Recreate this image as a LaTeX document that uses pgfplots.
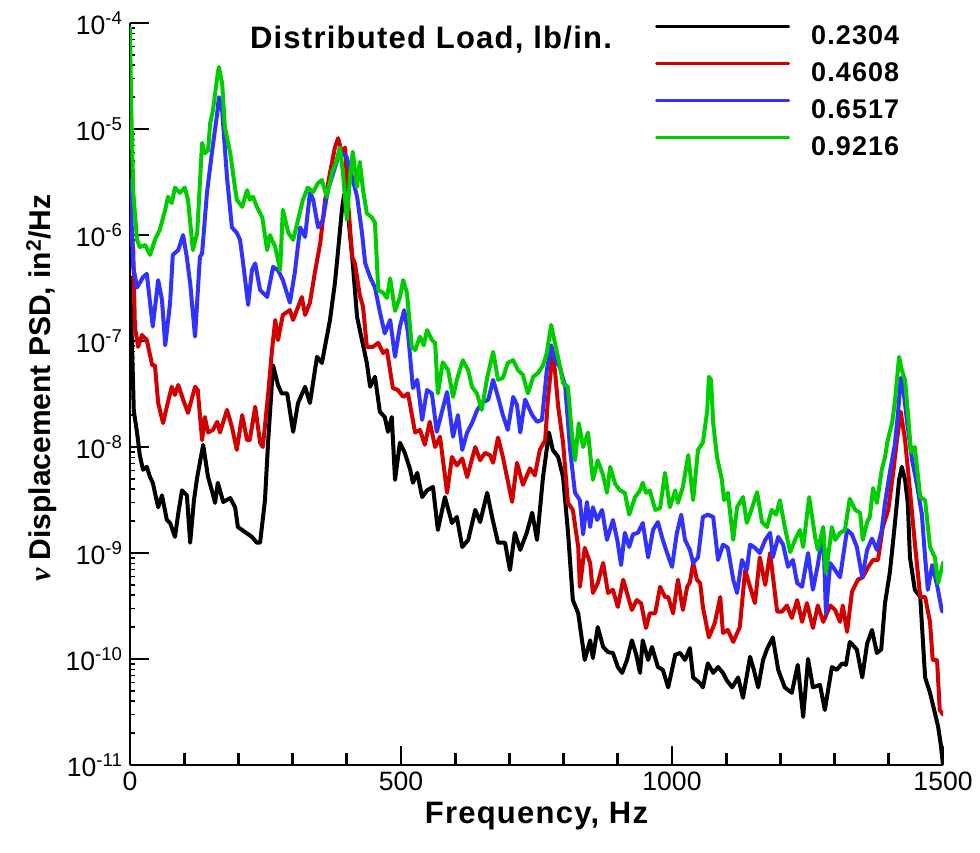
\documentclass[border=0pt]{standalone}
\usepackage{pgfplots}
\pgfplotsset{compat=1.18}
\usepackage{fontspec}
\setmainfont{Liberation Sans}
\newfontfamily\timesfont{Liberation Serif}
\newfontfamily\widefont[LetterSpace=4]{Liberation Sans}
\definecolor{cred}{RGB}{210,0,0}
\definecolor{cblue}{RGB}{50,50,255}
\definecolor{cgreen}{RGB}{0,205,0}
\begin{document}
\begin{tikzpicture}
\useasboundingbox (-97.5pt,-65.25pt) rectangle (637.5pt,573.75pt);
\begin{axis}[
  at={(0pt,0pt)}, anchor=south west,
  scale only axis, width=609.75pt, height=556.5pt,
  xmin=0, xmax=1500, ymin=1e-11, ymax=1e-4, ymode=log,
  axis lines=left, axis line style={-, line width=2.2pt, black},
  tick align=inside,
  xtick={0,500,1000,1500}, xticklabels={0,500,1000,1500},
  extra x ticks={100,200,300,400,600,700,800,900,1100,1200,1300,1400},
  extra x tick labels={},
  extra x tick style={major tick length=9pt, tick style={line width=1.2pt, black}},
  ytick={1e-11,1e-10,1e-9,1e-8,1e-7,1e-6,1e-5,1e-4},
  yticklabels={10\textsuperscript{-11},10\textsuperscript{-10},10\textsuperscript{-9},10\textsuperscript{-8},10\textsuperscript{-7},10\textsuperscript{-6},10\textsuperscript{-5},10\textsuperscript{-4}},
  minor ytick={2e-11,3e-11,4e-11,5e-11,6e-11,7e-11,8e-11,9e-11,
    2e-10,3e-10,4e-10,5e-10,6e-10,7e-10,8e-10,9e-10,
    2e-9,3e-9,4e-9,5e-9,6e-9,7e-9,8e-9,9e-9,
    2e-8,3e-8,4e-8,5e-8,6e-8,7e-8,8e-8,9e-8,
    2e-7,3e-7,4e-7,5e-7,6e-7,7e-7,8e-7,9e-7,
    2e-6,3e-6,4e-6,5e-6,6e-6,7e-6,8e-6,9e-6,
    2e-5,3e-5,4e-5,5e-5,6e-5,7e-5,8e-5,9e-5},
  major tick length=14.6pt, minor tick length=3.9pt,
  major tick style={line width=2.2pt, black},
  minor tick style={line width=1.1pt, black},
  tick label style={font=\fontsize{19.9pt}{24pt}\selectfont},
  xticklabel style={yshift=-2pt},
  yticklabel style={xshift=-2pt},
  xlabel={Frequency, Hz},
  xlabel style={at={(axis description cs:0.5,-0.0782)}, anchor=base, font=\fontsize{23.25pt}{28pt}\selectfont\widefont\bfseries},
  ylabel={{\timesfont\bfseries\itshape v} Displacement PSD, in\textsuperscript{2}/Hz},
  ylabel style={at={(axis description cs:-0.0972,0.508)}, anchor=base, font=\fontsize{22.5pt}{27pt}\selectfont\bfseries},
  legend cell align=left,
  legend style={at={(axis description cs:0.6458,0.9973)}, anchor=north west, draw=none, fill=none,
    inner sep=0pt, outer sep=0pt, row sep=11.5pt, column sep=15.75pt,
    nodes={inner sep=0pt},
    font=\fontsize{20.25pt}{24pt}\selectfont\widefont\bfseries},
  legend image code/.code={\draw[#1, line width=2.4pt] (0pt,7.25pt) -- (99pt,7.25pt);},
  every axis plot/.append style={line width=3pt, line join=round, line cap=round},
]
% 0.2304
\addplot[black] coordinates {
(0,3.8e-7) (4,8.2e-8) (7,2.2e-8) (13,1.37e-8) (18,8.4e-9) (24,6.1e-9) (31,6.5e-9) (37,5.2e-9) (42,4.6e-9) (52,2.7e-9) (59,3.5e-9) (68,2.05e-9) (74,1.92e-9) (83,1.42e-9) (90,2.55e-9) (96,3.9e-9) (105,3.5e-9) (111,1.25e-9) (118,3.15e-9) (124,5.2e-9) (135,1.05e-8) (144,5.2e-9) (151,3.9e-9) (157,2.97e-9) (162,4.6e-9) (172,3.03e-9) (185,3.3e-9) (194,2.7e-9) (199,1.76e-9) (212,1.58e-9) (225,1.42e-9) (234,1.25e-9) (240,1.25e-9) (249,3.15e-9) (255,1.16e-8) (264,5.9e-8) (273,3.85e-8) (280,3.2e-8) (290,3.2e-8) (301,1.39e-8) (310,2.6e-8) (323,3.7e-8) (332,2.6e-8) (345,7.1e-8) (354,6.2e-8) (369,1.58e-7) (378,3.5e-7) (384,7.2e-7) (391,1.73e-6) (395,2.4e-6) (400,2.15e-6) (406,1e-6) (411,5.4e-7) (419,1.68e-7) (428,1.02e-7) (437,6.2e-8) (443,3.7e-8) (452,4.6e-8) (461,2.15e-8) (470,1.92e-8) (476,1.39e-8) (483,1.92e-8) (489,4.9e-9) (498,1.1e-8) (507,8.8e-9) (517,6.1e-9) (522,4.6e-9) (530,5.7e-9) (539,3.37e-9) (548,3.9e-9) (559,4.2e-9) (568,1.65e-9) (581,3.37e-9) (594,1.92e-9) (603,2.19e-9) (613,1.14e-9) (624,1.33e-9) (637,2.55e-9) (646,1.96e-9) (659,3.7e-9) (668,2.19e-9) (679,1.25e-9) (692,1.25e-9) (701,6.9e-10) (710,1.55e-9) (720,1.07e-9) (732,1.55e-9) (742,2.4e-9) (751,1.33e-9) (762,5.2e-9) (773,1.37e-8) (780,9.4e-9) (790,8.05e-9) (799,5.2e-9) (808,1.6e-9) (817,3.6e-10) (827,2.7e-10) (839,9.8e-11) (849,1.5e-10) (854,1.02e-10) (863,2.0e-10) (873,1.3e-10) (882,1.16e-10) (891,1.14e-10) (900,8.4e-11) (908,7.4e-11) (917,9.8e-11) (926,1.5e-10) (934,1.1e-10) (941,7.4e-11) (946,1.5e-10) (956,9.8e-11) (963,1.3e-10) (974,8.4e-11) (983,7.9e-11) (993,5.4e-11) (1006,1.1e-10) (1015,1.14e-10) (1024,9.8e-11) (1033,1.27e-10) (1039,6.7e-11) (1052,5.9e-11) (1057,5.4e-11) (1066,9.1e-11) (1076,7.4e-11) (1085,8.4e-11) (1094,7.4e-11) (1101,6.3e-11) (1111,5.4e-11) (1122,6.7e-11) (1131,4.3e-11) (1144,1.05e-10) (1151,7.9e-11) (1159,5.4e-11) (1168,9.8e-11) (1175,1.23e-10) (1186,1.6e-10) (1196,7.9e-11) (1208,5.4e-11) (1221,4.8e-11) (1232,8.8e-11) (1242,2.85e-11) (1251,1.0e-10) (1260,5.4e-11) (1273,5.7e-11) (1282,3.3e-11) (1295,8.4e-11) (1304,7.9e-11) (1314,9.1e-11) (1321,8.8e-11) (1328,1.45e-10) (1341,1.23e-10) (1351,6.7e-11) (1360,1.4e-10) (1369,1.88e-10) (1378,1.14e-10) (1386,1.23e-10) (1393,3.37e-10) (1402,6.6e-10) (1411,1.84e-9) (1419,4.9e-9) (1424,6.5e-9) (1430,4.9e-9) (1435,2.97e-9) (1439,9.1e-10) (1448,4.5e-10) (1458,3.85e-10) (1467,6.7e-11) (1476,4.8e-11) (1485,3.1e-11) (1491,2.3e-11) (1496,1.55e-11) (1500,1.0e-11)
};
% 0.4608
\addplot[cred] coordinates {
(0,1.5e-6) (6,7.2e-7) (9,1.37e-7) (15,8.8e-8) (22,1.14e-7) (31,1.02e-7) (41,5.9e-8) (46,5.9e-8) (52,2.6e-8) (61,1.68e-8) (68,2.4e-8) (77,3.7e-8) (83,3.1e-8) (89,3.85e-8) (98,2.8e-8) (107,2.1e-8) (120,3.7e-8) (125,3.45e-8) (133,1.16e-8) (138,1.92e-8) (144,1.37e-8) (153,1.45e-8) (161,1.73e-8) (166,1.37e-8) (179,2.24e-8) (188,1.55e-8) (197,9.4e-9) (207,2.0e-8) (216,1.16e-8) (221,1.16e-8) (231,2.4e-8) (240,1.1e-8) (245,1.0e-8) (255,3.2e-8) (262,8.2e-8) (268,1.58e-7) (273,1.02e-7) (282,1.76e-7) (295,1.96e-7) (301,1.58e-7) (317,2.6e-7) (323,1.76e-7) (332,2.3e-7) (341,4.4e-7) (351,8.4e-7) (360,2.15e-6) (369,3.85e-6) (378,6.7e-6) (384,8.2e-6) (391,5.9e-6) (397,6.7e-6) (402,2.15e-6) (410,6.2e-7) (415,5.4e-7) (424,2.7e-7) (430,2.1e-7) (437,8.8e-8) (448,8.8e-8) (458,9.6e-8) (467,7.7e-8) (474,8.2e-8) (485,3.6e-8) (494,3.45e-8) (504,2.97e-8) (513,3.2e-8) (526,1.37e-8) (535,1.45e-8) (544,1.05e-8) (553,1.73e-8) (563,1.0e-8) (572,1.25e-8) (585,3.7e-9) (594,8.05e-9) (603,6.7e-9) (613,7.8e-9) (622,5.2e-9) (637,1.0e-8) (646,7.5e-9) (655,8.8e-9) (664,8.4e-9) (670,7.1e-9) (679,1.23e-8) (688,8.05e-9) (705,3.03e-9) (714,7.1e-9) (725,4.4e-9) (738,6.3e-9) (747,5.4e-9) (756,9.4e-9) (766,1.16e-8) (771,2.8e-8) (779,7.1e-8) (784,5.3e-8) (790,2.4e-8) (799,1.1e-8) (808,2.97e-9) (817,2.55e-9) (827,1.14e-9) (830,4.8e-10) (839,1.12e-9) (849,8.05e-10) (854,4.2e-10) (863,5.2e-10) (873,8.05e-10) (882,4.2e-10) (891,4.5e-10) (900,3.1e-10) (910,5.6e-10) (919,3.85e-10) (926,2.9e-10) (935,3.6e-10) (943,3.35e-10) (952,1.96e-10) (959,2.7e-10) (969,2.7e-10) (978,4.8e-10) (987,3.85e-10) (993,3.85e-10) (1002,2.7e-10) (1011,5.6e-10) (1020,2.9e-10) (1028,4.8e-10) (1033,5.3e-10) (1039,8.05e-10) (1046,5.6e-10) (1052,5.2e-10) (1057,3.1e-10) (1068,1.6e-10) (1079,2.19e-10) (1089,3.85e-10) (1094,1.76e-10) (1103,1.88e-10) (1113,1.45e-10) (1125,2.0e-10) (1135,6.9e-10) (1144,4.8e-10) (1153,3.37e-10) (1162,9.1e-10) (1172,5.0e-10) (1181,1.0e-9) (1194,2.8e-10) (1203,2.8e-10) (1212,3.2e-10) (1221,2.44e-10) (1231,3.6e-10) (1240,2.24e-10) (1249,3.37e-10) (1260,1.96e-10) (1269,3.2e-10) (1279,2.24e-10) (1292,3.2e-10) (1301,2.9e-10) (1310,2.24e-10) (1315,3.2e-10) (1323,1.8e-10) (1332,4.3e-10) (1343,5.6e-10) (1352,5.9e-10) (1362,7.4e-10) (1371,8.6e-10) (1380,8.6e-10) (1389,1.76e-9) (1399,2.55e-9) (1408,5.7e-9) (1415,1.16e-8) (1422,2.15e-8) (1430,1.16e-8) (1439,3.9e-9) (1448,1.25e-9) (1458,3.85e-10) (1467,3.85e-10) (1476,2.24e-10) (1481,9.8e-11) (1489,9.8e-11) (1494,3.3e-11) (1500,3.0e-11)
};
% 0.6517
\addplot[cblue] coordinates {
(0,3.3e-6) (6,5.0e-7) (13,3.2e-7) (24,4.0e-7) (31,4.3e-7) (42,1.37e-7) (52,3.76e-7) (59,2.44e-7) (65,9.1e-8) (74,2.3e-7) (79,6.5e-7) (89,7.2e-7) (98,1.0e-6) (105,6.1e-7) (111,3.5e-7) (120,1.1e-7) (129,6.2e-7) (133,6.7e-7) (142,2.5e-6) (151,5.9e-6) (161,1.42e-5) (164,2.0e-5) (170,1.5e-5) (179,3.5e-6) (188,1.18e-6) (197,1.05e-6) (203,9.0e-7) (208,5.8e-7) (218,2.19e-7) (225,4.67e-7) (231,5.4e-7) (240,3.03e-7) (253,2.6e-7) (264,5.0e-7) (273,4.67e-7) (282,3.76e-7) (295,2.3e-7) (304,4.4e-7) (314,1.18e-6) (323,9.6e-7) (332,2.5e-6) (338,2.15e-6) (347,1.18e-6) (356,1.39e-6) (365,2.65e-6) (375,3.85e-6) (384,5.4e-6) (393,5.9e-6) (400,5.4e-6) (406,4.1e-6) (411,3.3e-6) (419,2.3e-6) (428,1.05e-6) (434,5.4e-7) (443,4.0e-7) (452,3.2e-7) (461,1.88e-7) (470,1.18e-7) (480,1.58e-7) (489,7.1e-8) (498,1.37e-7) (506,1.96e-7) (513,1.18e-7) (522,3.6e-8) (530,4.3e-8) (539,1.8e-8) (548,3.45e-8) (557,3.2e-8) (566,1.39e-8) (576,2.2e-8) (585,3.3e-8) (596,1.25e-8) (605,2.0e-8) (613,9.4e-9) (622,1.37e-8) (631,1.68e-8) (640,2.2e-8) (649,2.6e-8) (661,2.8e-8) (670,4.3e-8) (679,2.97e-8) (688,2.0e-8) (697,1.45e-8) (707,2.97e-8) (714,2.5e-8) (720,1.37e-8) (729,2.8e-8) (742,2.0e-8) (751,1.73e-8) (760,1.8e-8) (769,5.3e-8) (777,9.1e-8) (784,6.6e-8) (793,5.7e-8) (803,3.7e-8) (812,9.4e-9) (821,3.7e-9) (830,3.15e-9) (836,1.5e-9) (843,3.03e-9) (849,1.76e-9) (854,2.7e-9) (862,2.05e-9) (871,2.55e-9) (880,1.33e-9) (891,2.05e-9) (899,1.33e-9) (906,7.7e-10) (913,1.55e-9) (921,1.14e-9) (928,1.5e-9) (937,1.55e-9) (946,1.92e-9) (956,9.1e-10) (965,1.65e-9) (974,1.96e-9) (983,1.33e-9) (991,1.0e-9) (1000,7.4e-10) (1009,1.55e-9) (1017,2.3e-9) (1024,1.33e-9) (1033,1.07e-9) (1039,8.05e-10) (1048,9.1e-10) (1057,2.19e-9) (1066,2.3e-9) (1076,2.19e-9) (1085,8.6e-10) (1094,1.2e-9) (1103,1.12e-9) (1113,5.6e-10) (1120,4.2e-10) (1129,8.6e-10) (1138,6.9e-10) (1144,1.2e-9) (1153,1.12e-9) (1162,1.0e-9) (1172,1.33e-9) (1181,1.55e-9) (1186,9.1e-10) (1196,1.42e-9) (1205,1.2e-9) (1214,7.4e-10) (1223,8.6e-10) (1231,5.2e-10) (1240,4.8e-10) (1251,1.0e-9) (1260,4.5e-10) (1269,7.7e-10) (1279,1.65e-9) (1284,2.7e-10) (1292,8.05e-10) (1301,6.9e-10) (1310,5.9e-10) (1323,1.65e-9) (1332,1.5e-9) (1341,1.14e-9) (1351,5.9e-10) (1360,1.07e-9) (1369,1.37e-9) (1378,1.07e-9) (1387,1.65e-9) (1393,2.97e-9) (1402,5.8e-9) (1411,1.05e-8) (1417,2.1e-8) (1422,4.5e-8) (1428,3.1e-8) (1434,1.68e-8) (1443,7.5e-9) (1452,4.4e-9) (1461,2.3e-9) (1467,9.1e-10) (1472,4.5e-10) (1480,7.7e-10) (1489,5.0e-10) (1498,2.85e-10) (1500,2.8e-10)
};
% 0.9216
\addplot[cgreen] coordinates {
(0,8.97e-5) (2,1.88e-5) (6,2.5e-6) (13,9.0e-7) (18,7.7e-7) (28,8.05e-7) (37,6.5e-7) (46,9.0e-7) (55,1.12e-6) (65,1.73e-6) (70,2.3e-6) (77,2.0e-6) (83,2.8e-6) (92,2.5e-6) (101,2.8e-6) (107,2.15e-6) (116,7.2e-7) (124,1.05e-6) (133,7.4e-6) (138,5.9e-6) (144,6.3e-6) (148,1.14e-5) (153,1.5e-5) (161,3.1e-5) (164,3.85e-5) (170,2.7e-5) (175,1.05e-5) (185,5.9e-6) (190,3.85e-6) (197,2.15e-6) (207,1.84e-6) (216,2.65e-6) (221,2.15e-6) (227,2.3e-6) (234,1.84e-6) (244,1.47e-6) (253,7.2e-7) (258,1.0e-6) (268,7.7e-7) (277,4.67e-7) (282,1.73e-6) (292,1.05e-6) (301,9.0e-7) (310,1.39e-6) (319,2.15e-6) (328,2.8e-6) (338,2.55e-6) (347,3.1e-6) (354,3.3e-6) (363,2.3e-6) (373,3.9e-6) (380,4.8e-6) (387,6.7e-6) (393,3.85e-6) (400,1.39e-6) (406,3.5e-6) (411,6.1e-6) (419,2.85e-6) (424,4.9e-6) (430,2.65e-6) (437,1.6e-6) (446,1.47e-6) (452,1.3e-6) (458,3.03e-7) (467,2.85e-7) (474,2.55e-7) (480,3.9e-7) (489,1.92e-7) (498,2.6e-7) (504,3.76e-7) (511,2.85e-7) (520,8.8e-8) (526,8.2e-8) (535,1.1e-7) (542,9.1e-8) (548,1.27e-7) (557,1.02e-7) (563,9.6e-8) (568,3.2e-8) (577,6.3e-8) (587,5.3e-8) (596,2.97e-8) (603,4.3e-8) (614,6.6e-8) (624,5.3e-8) (631,3.7e-8) (640,3.2e-8) (649,2.24e-8) (659,4.5e-8) (670,7.9e-8) (679,4.3e-8) (688,4.5e-8) (697,6.2e-8) (707,6.6e-8) (716,5.3e-8) (725,4.8e-8) (734,3.2e-8) (744,4.6e-8) (753,5.0e-8) (762,5.9e-8) (769,7.7e-8) (777,1.42e-7) (784,9.6e-8) (792,6.2e-8) (799,4.0e-8) (808,3.7e-8) (815,1.37e-8) (821,7.5e-9) (828,1.68e-8) (836,1.0e-8) (845,1.37e-8) (854,4.9e-9) (863,7.5e-9) (873,5.4e-9) (880,3.7e-9) (886,6.5e-9) (895,4.5e-9) (904,3.9e-9) (913,3.7e-9) (921,2.3e-9) (932,3.37e-9) (941,3.9e-9) (946,4.6e-9) (952,3.7e-9) (959,3.9e-9) (969,2.55e-9) (978,2.65e-9) (987,5.7e-9) (996,2.7e-9) (1006,3.9e-9) (1011,2.97e-9) (1020,4.2e-9) (1030,8.4e-9) (1039,3.15e-9) (1048,9.4e-9) (1057,1.1e-8) (1065,2.2e-8) (1068,4.6e-8) (1072,4.3e-8) (1076,1.68e-8) (1083,8.05e-9) (1092,4.9e-9) (1096,3.15e-9) (1103,3.7e-9) (1113,1.33e-9) (1120,2.7e-9) (1131,3.37e-9) (1138,1.92e-9) (1148,2.7e-9) (1157,3.76e-9) (1166,1.96e-9) (1175,1.76e-9) (1184,2.55e-9) (1192,2.3e-9) (1199,3.15e-9) (1208,1.76e-9) (1218,1.02e-9) (1227,1.33e-9) (1236,1.65e-9) (1242,1.14e-9) (1253,3.37e-9) (1264,1.42e-9) (1269,1.07e-9) (1279,1.76e-9) (1284,6.5e-10) (1295,1.76e-9) (1301,1.33e-9) (1310,1.55e-9) (1319,1.65e-9) (1328,3.25e-9) (1338,2.55e-9) (1347,2.4e-9) (1352,1.33e-9) (1360,1.96e-9) (1365,2.19e-9) (1371,4.1e-9) (1378,2.97e-9) (1387,6.1e-9) (1393,8.05e-9) (1398,1.16e-8) (1406,1.68e-8) (1411,2.6e-8) (1419,7.1e-8) (1424,5.3e-8) (1430,4.3e-8) (1435,2.15e-8) (1441,8.97e-9) (1448,1.0e-8) (1458,3.37e-9) (1467,3.15e-9) (1476,1.14e-9) (1485,9.1e-10) (1491,5.2e-10) (1500,8.05e-10)
};
\legend{0.2304,0.4608,0.6517,0.9216}
\node[anchor=base, font=\fontsize{23.25pt}{28pt}\selectfont\widefont\bfseries] at (axis description cs:0.3702,0.9658) {Distributed Load, lb/in.};
\end{axis}
\end{tikzpicture}
\end{document}
